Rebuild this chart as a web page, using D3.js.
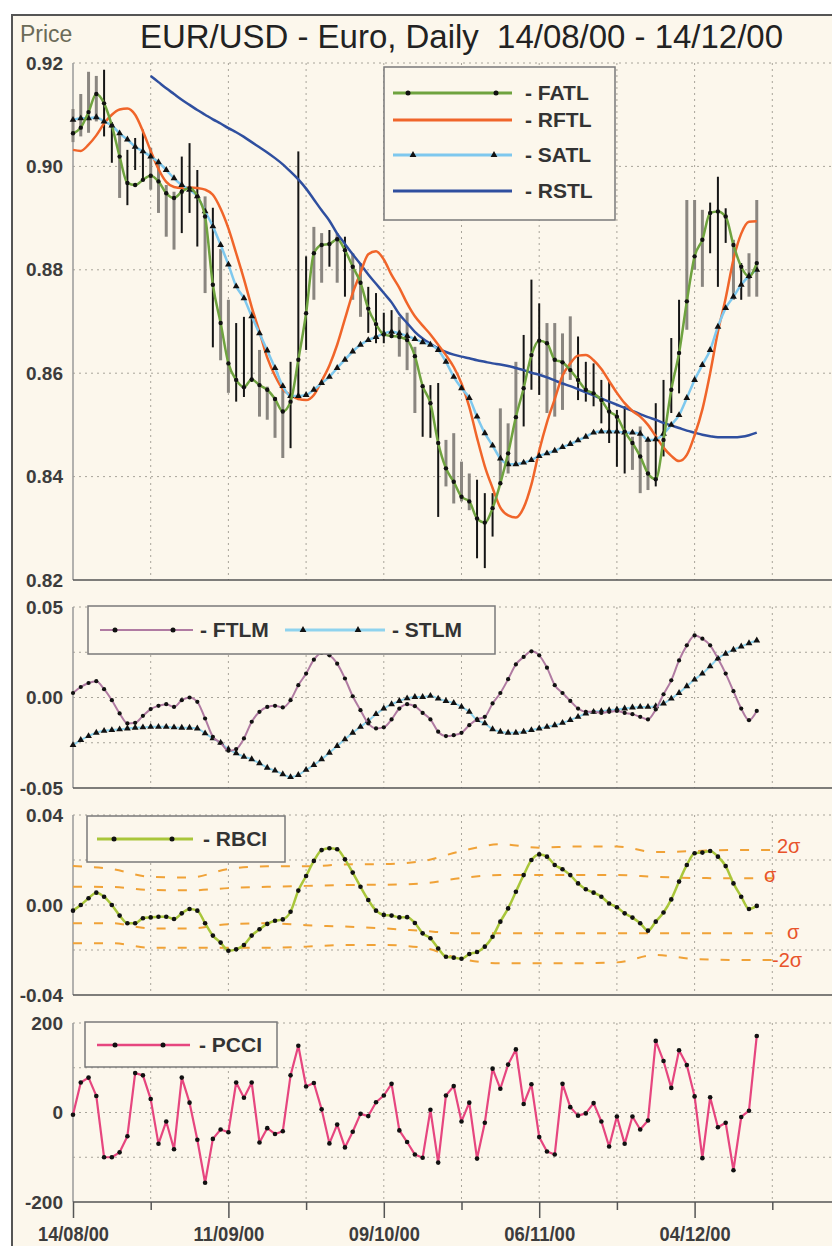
<!DOCTYPE html>
<html>
<head>
<meta charset="utf-8">
<script src="https://cdn.jsdelivr.net/npm/d3@7"></script>
<style>
  body { margin: 0; background: #fff; }
  svg { display: block; }
  text { font-family: Arial, "Liberation Sans", sans-serif; }
</style>
</head>
<body>
<svg id="chart" width="832" height="1246"></svg>
<script>
// ---- data (one value per trading day, 14/08/00 .. 14/12/00) ----
const fatl = [0.9064,0.9075,0.9105,0.9140,0.9122,0.9079,0.9019,0.8968,0.8964,0.8974,
  0.8982,0.8971,0.8948,0.8939,0.8951,0.8958,0.8942,0.8903,0.8771,0.8697,
  0.8619,0.8587,0.8573,0.8588,0.8577,0.8568,0.8550,0.8526,0.8545,0.8626,
  0.8716,0.8832,0.8848,0.8850,0.8859,0.8838,0.8806,0.8775,0.8725,0.8695,
  0.8675,0.8672,0.8670,0.8664,0.8633,0.8575,0.8542,0.8465,0.8416,0.8390,
  0.8361,0.8352,0.8319,0.8311,0.8339,0.8387,0.8445,0.8515,0.8571,0.8635,
  0.8663,0.8658,0.8626,0.8621,0.8606,0.8587,0.8568,0.8561,0.8548,0.8526,
  0.8516,0.8487,0.8465,0.8439,0.8406,0.8395,0.8471,0.8568,0.8639,0.8739,
  0.8826,0.8858,0.8910,0.8913,0.8903,0.8848,0.8806,0.8787,0.8813];

const rftl = [0.9032,0.9030,0.9042,0.9060,0.9083,0.9100,0.9110,0.9112,0.9100,0.9068,
  0.9030,0.8995,0.8970,0.8960,0.8958,0.8959,0.8958,0.8955,0.8945,0.8918,
  0.8880,0.8832,0.8782,0.8728,0.8680,0.8630,0.8595,0.8569,0.8558,0.8550,
  0.8548,0.8558,0.8585,0.8615,0.8655,0.8705,0.8755,0.8794,0.8830,0.8836,
  0.8820,0.8790,0.8765,0.8735,0.8710,0.8692,0.8675,0.8655,0.8635,0.8612,
  0.8580,0.8535,0.8475,0.8420,0.8378,0.8340,0.8325,0.8321,0.8340,0.8385,
  0.8450,0.8505,0.8550,0.8595,0.8619,0.8634,0.8635,0.8625,0.8608,0.8585,
  0.8562,0.8542,0.8527,0.8516,0.8500,0.8478,0.8456,0.8440,0.8430,0.8442,
  0.8480,0.8530,0.8600,0.8680,0.8745,0.8820,0.8870,0.8893,0.8894];

const satl = [0.9090,0.9093,0.9093,0.9095,0.9087,0.9079,0.9064,0.9052,0.9038,0.9029,
  0.9019,0.9008,0.8993,0.8977,0.8964,0.8955,0.8942,0.8913,0.8884,0.8848,
  0.8810,0.8768,0.8745,0.8710,0.8677,0.8644,0.8610,0.8575,0.8556,0.8556,
  0.8558,0.8568,0.8581,0.8593,0.8610,0.8626,0.8642,0.8655,0.8664,0.8670,
  0.8677,0.8680,0.8677,0.8672,0.8666,0.8660,0.8655,0.8645,0.8622,0.8593,
  0.8571,0.8552,0.8516,0.8484,0.8460,0.8435,0.8424,0.8424,0.8427,0.8432,
  0.8440,0.8445,0.8450,0.8457,0.8463,0.8470,0.8477,0.8485,0.8487,0.8487,
  0.8487,0.8485,0.8485,0.8483,0.8471,0.8472,0.8483,0.8500,0.8519,0.8552,
  0.8587,0.8616,0.8645,0.8690,0.8726,0.8748,0.8771,0.8788,0.8800];

// RSTL starts on the 11th trading day
const rstl = [null,null,null,null,null,null,null,null,null,null,
  0.9175,0.9163,0.9151,0.9140,0.9129,0.9119,0.9109,0.9100,0.9091,0.9083,
  0.9074,0.9066,0.9057,0.9047,0.9037,0.9027,0.9016,0.9004,0.8990,0.8975,
  0.8957,0.8936,0.8915,0.8895,0.8870,0.8850,0.8830,0.8811,0.8791,0.8773,
  0.8755,0.8737,0.8714,0.8697,0.8680,0.8667,0.8657,0.8648,0.8641,0.8636,
  0.8632,0.8629,0.8625,0.8622,0.8619,0.8617,0.8614,0.8610,0.8606,0.8601,
  0.8597,0.8592,0.8586,0.8580,0.8575,0.8569,0.8563,0.8557,0.8551,0.8545,
  0.8539,0.8533,0.8527,0.8521,0.8515,0.8510,0.8504,0.8499,0.8494,0.8489,
  0.8485,0.8481,0.8478,0.8476,0.8476,0.8476,0.8477,0.8480,0.8485];

const barHigh = [0.9111,0.9140,0.9183,0.9175,0.9187,0.9086,0.9065,0.9032,0.9055,0.9071,
  0.9036,0.9007,0.8964,0.8951,0.9019,0.9045,0.8993,0.8942,0.8920,0.8840,
  0.8742,0.8697,0.8709,0.8719,0.8645,0.8574,0.8554,0.8568,0.8622,0.9029,
  0.8826,0.8883,0.8871,0.8877,0.8871,0.8864,0.8832,0.8813,0.8767,0.8755,
  0.8717,0.8722,0.8709,0.8717,0.8651,0.8574,0.8577,0.8581,0.8471,0.8484,
  0.8429,0.8406,0.8394,0.8368,0.8368,0.8532,0.8503,0.8622,0.8674,0.8781,
  0.8735,0.8697,0.8697,0.8677,0.8710,0.8671,0.8622,0.8619,0.8587,0.8584,
  0.8529,0.8536,0.8477,0.8497,0.8471,0.8542,0.8587,0.8668,0.8742,0.8935,
  0.8935,0.8916,0.8930,0.8980,0.8919,0.8858,0.8813,0.8832,0.8935];

const barLow = [0.9047,0.9058,0.9065,0.9087,0.9058,0.9007,0.8939,0.8925,0.8993,0.8974,
  0.8955,0.8910,0.8864,0.8839,0.8871,0.8910,0.8845,0.8755,0.8650,0.8625,
  0.8562,0.8545,0.8554,0.8583,0.8516,0.8510,0.8475,0.8436,0.8455,0.8548,
  0.8645,0.8742,0.8775,0.8806,0.8775,0.8748,0.8742,0.8709,0.8678,0.8658,
  0.8658,0.8668,0.8632,0.8606,0.8523,0.8477,0.8475,0.8322,0.8381,0.8348,
  0.8352,0.8335,0.8242,0.8223,0.8284,0.8387,0.8406,0.8429,0.8497,0.8568,
  0.8558,0.8523,0.8516,0.8529,0.8587,0.8548,0.8545,0.8536,0.8503,0.8465,
  0.8419,0.8406,0.8413,0.8368,0.8374,0.8381,0.8439,0.8523,0.8561,0.8684,
  0.8800,0.8767,0.8832,0.8767,0.8852,0.8742,0.8742,0.8748,0.8748];

// b = black bar, g = grey bar
const barTone = ["g","g","g","g","b","b","g","b","b","b",
  "g","g","g","g","b","b","b","g","b","g",
  "g","b","b","b","g","g","g","g","b","b",
  "b","g","g","b","g","b","g","g","b","b",
  "b","b","g","g","g","b","b","b","g","g",
  "g","g","b","b","b","g","g","g","b","b",
  "b","g","g","g","g","b","b","b","b","b",
  "b","b","g","g","g","b","b","b","b","g",
  "g","g","b","b","b","g","b","g","g"];

const ftlm = [0.0025,0.0058,0.0080,0.0090,0.0046,-0.0015,-0.0088,-0.0143,-0.0140,-0.0101,
  -0.0064,-0.0046,-0.0037,-0.0052,-0.0015,0.0000,-0.0024,-0.0116,-0.0217,-0.0250,
  -0.0294,-0.0285,-0.0226,-0.0134,-0.0079,-0.0052,-0.0046,-0.0055,-0.0015,0.0068,
  0.0132,0.0209,0.0246,0.0233,0.0187,0.0105,0.0007,-0.0070,-0.0143,-0.0171,
  -0.0165,-0.0121,-0.0061,-0.0037,-0.0048,-0.0085,-0.0121,-0.0189,-0.0213,-0.0208,
  -0.0195,-0.0153,-0.0121,-0.0107,-0.0033,0.0025,0.0101,0.0183,0.0224,0.0255,
  0.0233,0.0165,0.0068,0.0025,-0.0019,-0.0061,-0.0079,-0.0079,-0.0085,-0.0079,
  -0.0074,-0.0085,-0.0092,-0.0107,-0.0121,-0.0066,0.0018,0.0095,0.0205,0.0288,
  0.0343,0.0325,0.0288,0.0215,0.0132,0.0035,-0.0061,-0.0125,-0.0074];

const stlm = [-0.0263,-0.0235,-0.0213,-0.0195,-0.0184,-0.0180,-0.0176,-0.0171,-0.0167,-0.0165,
  -0.0162,-0.0162,-0.0162,-0.0165,-0.0167,-0.0167,-0.0171,-0.0198,-0.0226,-0.0250,
  -0.0286,-0.0308,-0.0327,-0.0341,-0.0363,-0.0388,-0.0404,-0.0424,-0.0440,-0.0428,
  -0.0400,-0.0373,-0.0341,-0.0305,-0.0268,-0.0231,-0.0195,-0.0162,-0.0129,-0.0092,
  -0.0061,-0.0037,-0.0019,-0.0005,0.0003,0.0003,0.0009,-0.0006,-0.0019,-0.0030,
  -0.0052,-0.0079,-0.0125,-0.0143,-0.0175,-0.0189,-0.0195,-0.0195,-0.0189,-0.0180,
  -0.0171,-0.0162,-0.0153,-0.0140,-0.0125,-0.0107,-0.0088,-0.0079,-0.0075,-0.0070,
  -0.0066,-0.0061,-0.0055,-0.0052,-0.0052,-0.0048,-0.0033,-0.0006,0.0025,0.0062,
  0.0099,0.0132,0.0172,0.0215,0.0242,0.0264,0.0282,0.0300,0.0315];

const rbci = [-0.0025,0.0000,0.0030,0.0055,0.0037,0.0000,-0.0047,-0.0081,-0.0081,-0.0059,
  -0.0055,-0.0052,-0.0052,-0.0062,-0.0037,-0.0018,-0.0025,-0.0081,-0.0136,-0.0167,
  -0.0203,-0.0197,-0.0178,-0.0136,-0.0108,-0.0084,-0.0070,-0.0064,-0.0030,0.0064,
  0.0129,0.0196,0.0244,0.0252,0.0248,0.0203,0.0144,0.0081,0.0022,-0.0025,
  -0.0044,-0.0047,-0.0055,-0.0054,-0.0080,-0.0126,-0.0148,-0.0193,-0.0230,-0.0234,
  -0.0239,-0.0218,-0.0209,-0.0185,-0.0141,-0.0074,-0.0015,0.0059,0.0133,0.0200,
  0.0225,0.0215,0.0178,0.0159,0.0133,0.0096,0.0070,0.0055,0.0037,0.0007,
  -0.0010,-0.0037,-0.0056,-0.0081,-0.0114,-0.0074,-0.0033,0.0025,0.0104,0.0178,
  0.0230,0.0233,0.0240,0.0215,0.0173,0.0096,0.0037,-0.0018,-0.0004];

const pcci = [-5,67,78,37,-100,-100,-89,-53,88,83,
  30,-70,-20,-82,78,22,-61,-157,-59,-38,
  -44,67,33,67,-67,-35,-48,-42,83,149,
  58,66,7,-69,-27,-78,-43,-3,-8,23,
  38,64,-40,-66,-94,-101,6,-112,38,59,
  -20,22,-103,-23,98,53,107,141,19,63,
  -55,-87,-94,64,12,-7,-2,21,-20,-76,
  -9,-70,-9,-38,-18,160,115,55,139,106,
  36,-102,34,-33,-23,-129,-10,4,171];

// RBCI sigma bands, sampled every 5 trading days
const sigmaDays = [0,5,10,15,20,25,30,35,40,45,50,55,60,65,70,75,80,85,90];
const sigmaPlus2 = [0.0173,0.0160,0.0125,0.0122,0.0160,0.0172,0.0172,0.0180,0.0182,0.0195,0.0240,0.0270,0.0255,0.0260,0.0260,0.0235,0.0240,0.0245,0.0245];
const sigmaPlus1 = [0.0081,0.0080,0.0067,0.0065,0.0075,0.0081,0.0085,0.0089,0.0090,0.0096,0.0120,0.0133,0.0133,0.0133,0.0133,0.0125,0.0120,0.0119,0.0119];
const sigmaMinus1 = [-0.0081,-0.0081,-0.0104,-0.0104,-0.0085,-0.0081,-0.0090,-0.0096,-0.0104,-0.0115,-0.0126,-0.0126,-0.0126,-0.0126,-0.0126,-0.0126,-0.0126,-0.0126,-0.0126];
const sigmaMinus2 = [-0.0170,-0.0170,-0.0190,-0.0190,-0.0190,-0.0190,-0.0185,-0.0178,-0.0178,-0.0190,-0.0240,-0.0259,-0.0259,-0.0259,-0.0255,-0.0222,-0.0240,-0.0244,-0.0244];

// axis ticks
const gridDays = [0,10,20,30,40,50,60,70,80,90];
const labelDays = [0,20,40,60,80];
const dateLabels = ["14/08/00","11/09/00","09/10/00","06/11/00","04/12/00"];
const priceTicks = [0.82,0.84,0.86,0.88,0.90,0.92];
const momGrid = [-0.025,0,0.025,0.05], momLabels = [-0.05,0,0.05];
const rbciGrid = [-0.02,0,0.02,0.04], rbciLabels = [-0.04,0,0.04];
const pcciGrid = [-100,0,100,200], pcciLabels = [-200,0,200];

// ---- setup ----
const svg = d3.select("#chart");
const FONT = "Arial, 'Liberation Sans', sans-serif";
const RIGHT = 832;

const x = d3.scaleLinear().domain([0, 100]).range([73, 850]);
const yPrice = d3.scaleLinear().domain([0.82, 0.92]).range([580, 63]);
const yMom = d3.scaleLinear().domain([-0.05, 0.05]).range([788, 607]);
const yRbci = d3.scaleLinear().domain([-0.04, 0.04]).range([995, 815]);
const yPcci = d3.scaleLinear().domain([-200, 200]).range([1202, 1023]);

// cream background with frame
svg.append("rect")
    .attr("x", 12).attr("y", 15)
    .attr("width", 840).attr("height", 1250)
    .attr("fill", "#fcf7ec")
    .attr("stroke", "#555")
    .attr("stroke-width", 2);

// title (two spaces before the dates)
svg.append("text")
    .attr("x", 140).attr("y", 48)
    .attr("font-size", 33)
    .attr("fill", "#222")
    .attr("textLength", 643)
    .attr("lengthAdjust", "spacingAndGlyphs")
    .text("EUR/USD - Euro, Daily \u00a014/08/00 - 14/12/00");

svg.append("text")
    .attr("x", 20).attr("y", 42)
    .attr("font-size", 23)
    .attr("fill", "#6b6b58")
    .text("Price");

// panel frame: grid, axes, y labels
function drawPanel(y, gridVals, labelVals, fmt) {
    const [bottom, top] = y.range();
    const g = svg.append("g");

    g.selectAll("line.hgrid")
        .data(gridVals)
        .enter().append("line")
        .attr("x1", x(0)).attr("x2", RIGHT)
        .attr("y1", d => y(d)).attr("y2", d => y(d))
        .attr("stroke", "#a8a49a")
        .attr("stroke-dasharray", "2,4");

    g.selectAll("line.vgrid")
        .data(gridDays.slice(1))
        .enter().append("line")
        .attr("x1", d => x(d)).attr("x2", d => x(d))
        .attr("y1", top).attr("y2", bottom)
        .attr("stroke", "#a8a49a")
        .attr("stroke-dasharray", "2,4");

    g.append("line")
        .attr("x1", x(0)).attr("x2", x(0))
        .attr("y1", top).attr("y2", bottom)
        .attr("stroke", "#9a9a9a").attr("stroke-width", 1.5);

    g.append("line")
        .attr("x1", x(0)).attr("x2", RIGHT)
        .attr("y1", bottom).attr("y2", bottom)
        .attr("stroke", "#555").attr("stroke-width", 1.5);

    const axis = d3.axisLeft(y)
        .tickValues(labelVals)
        .tickSize(0)
        .tickPadding(10)
        .tickFormat(d => d3.format(fmt)(d).replace("\u2212", "-"));
    const ag = svg.append("g")
        .attr("transform", `translate(${x(0)},0)`)
        .call(axis);
    ag.select(".domain").remove();
    ag.selectAll("text")
        .attr("font-family", FONT)
        .attr("font-size", 19)
        .attr("font-weight", "bold")
        .attr("fill", "#3c3c3c");
}

drawPanel(yPrice, priceTicks.slice(1), priceTicks, ".2f");
drawPanel(yMom, momGrid, momLabels, ".2f");
drawPanel(yRbci, rbciGrid, rbciLabels, ".2f");
drawPanel(yPcci, pcciGrid, pcciLabels, "d");

// x axis under the last panel
const xAxis = d3.axisBottom(x)
    .tickValues(gridDays)
    .tickSize(8)
    .tickPadding(16)
    .tickFormat(d => {
        const k = labelDays.indexOf(d);
        return k >= 0 ? dateLabels[k] : "";
    });
const xg = svg.append("g")
    .attr("transform", "translate(0,1202)")
    .call(xAxis);
xg.select(".domain").remove();
xg.selectAll(".tick line")
    .attr("stroke", "#555")
    .attr("stroke-width", 1.5)
    .attr("y2", d => labelDays.includes(d) ? 16 : 8);
xg.selectAll("text")
    .filter(d => labelDays.includes(d))
    .attr("font-family", FONT)
    .attr("font-size", 21)
    .attr("font-weight", "bold")
    .attr("fill", "#3c3c3c")
    .attr("textLength", 71)
    .attr("lengthAdjust", "spacingAndGlyphs");

// ---- helpers ----
function addLine(data, y, color, width, curve) {
    const line = d3.line()
        .defined(d => d != null)
        .x((d, i) => x(i))
        .y(d => y(d))
        .curve(curve || d3.curveLinear);
    svg.append("path")
        .datum(data)
        .attr("d", line)
        .attr("fill", "none")
        .attr("stroke", color)
        .attr("stroke-width", width)
        .attr("stroke-linejoin", "round");
}

function addDots(data, y, r) {
    svg.append("g").selectAll("circle")
        .data(data)
        .enter().append("circle")
        .attr("cx", (d, i) => x(i))
        .attr("cy", d => y(d))
        .attr("r", r)
        .attr("fill", "#111");
}

const tri = d3.symbol().type(d3.symbolTriangle).size(20);
function addTriangles(data, y) {
    svg.append("g").selectAll("path")
        .data(data)
        .enter().append("path")
        .attr("d", tri)
        .attr("transform", (d, i) => `translate(${x(i)},${y(d)})`)
        .attr("fill", "#111");
}

// ---- price panel ----
const bars = barHigh.map((h, i) => ({ i: i, h: h, l: barLow[i], tone: barTone[i] }));
svg.append("g").selectAll("line")
    .data(bars)
    .enter().append("line")
    .attr("x1", d => x(d.i)).attr("x2", d => x(d.i))
    .attr("y1", d => yPrice(d.h)).attr("y2", d => yPrice(d.l))
    .attr("stroke", d => d.tone === "b" ? "#151515" : "#8a8680")
    .attr("stroke-width", d => d.tone === "b" ? 2 : 3);

addLine(rstl, yPrice, "#2f4f9f", 2.5, d3.curveMonotoneX);
addLine(rftl, yPrice, "#f0652a", 2.5, d3.curveMonotoneX);
addLine(satl, yPrice, "#7ec8ee", 2.5, d3.curveMonotoneX);
addTriangles(satl, yPrice);
addLine(fatl, yPrice, "#6fa33f", 2.5, d3.curveMonotoneX);
addDots(fatl, yPrice, 2.2);

// ---- FTLM / STLM ----
addLine(stlm, yMom, "#8fd3ee", 2, d3.curveMonotoneX);
addTriangles(stlm, yMom);
addLine(ftlm, yMom, "#b07ba2", 2, d3.curveMonotoneX);
addDots(ftlm, yMom, 2.1);

// ---- RBCI with sigma bands ----
const bandLine = d3.line()
    .x(d => x(d[0]))
    .y(d => yRbci(d[1]))
    .curve(d3.curveMonotoneX);
[sigmaPlus2, sigmaPlus1, sigmaMinus1, sigmaMinus2].forEach(band => {
    svg.append("path")
        .datum(sigmaDays.map((d, i) => [d, band[i]]))
        .attr("d", bandLine)
        .attr("fill", "none")
        .attr("stroke", "#f0a237")
        .attr("stroke-width", 2)
        .attr("stroke-dasharray", "9,12");
});
addLine(rbci, yRbci, "#a9c63a", 2.5, d3.curveMonotoneX);
addDots(rbci, yRbci, 2.3);

const sigmaText = [
    { t: "2\u03c3", x: 777, y: 853 },
    { t: "\u03c3", x: 764, y: 882 },
    { t: "\u03c3", x: 787, y: 939 },
    { t: "-2\u03c3", x: 772, y: 967 }
];
svg.selectAll("text.sig")
    .data(sigmaText)
    .enter().append("text")
    .attr("class", "sig")
    .attr("x", d => d.x).attr("y", d => d.y)
    .attr("font-size", 20)
    .attr("fill", "#e8532b")
    .text(d => d.t);

// ---- PCCI ----
addLine(pcci, yPcci, "#e6467f", 2.2);
addDots(pcci, yPcci, 2.3);

// ---- legends ----
function legendBox(x0, y0, w, h) {
    svg.append("rect")
        .attr("x", x0).attr("y", y0)
        .attr("width", w).attr("height", h)
        .attr("fill", "#fcf7ec")
        .attr("stroke", "#7a7a7a")
        .attr("stroke-width", 1.5);
}
function legendItem(x1, x2, y, color, width, marker, mx, label, tx) {
    svg.append("line")
        .attr("x1", x1).attr("x2", x2).attr("y1", y).attr("y2", y)
        .attr("stroke", color).attr("stroke-width", width);
    mx.forEach(m => {
        if (marker === "dot") {
            svg.append("circle").attr("cx", m).attr("cy", y).attr("r", 2.5).attr("fill", "#111");
        } else if (marker === "tri") {
            svg.append("path").attr("d", tri).attr("transform", `translate(${m},${y})`).attr("fill", "#111");
        }
    });
    svg.append("text")
        .attr("x", tx).attr("y", y + 7)
        .attr("font-size", 21)
        .attr("font-weight", "bold")
        .attr("fill", "#333")
        .text(label);
}

legendBox(384, 67, 231, 153);
legendItem(393, 512, 93, "#6fa33f", 3, "dot", [408, 496], "- FATL", 525);
legendItem(393, 512, 120, "#f0652a", 3, null, [], "- RFTL", 525);
legendItem(393, 512, 155, "#7ec8ee", 3, "tri", [413, 494], "- SATL", 525);
legendItem(393, 512, 191, "#2f4f9f", 3, null, [], "- RSTL", 525);

legendBox(88, 606, 407, 48);
legendItem(100, 193, 630, "#b07ba2", 2, "dot", [115, 173], "- FTLM", 200);
legendItem(285, 385, 630, "#8fd3ee", 3, "tri", [303, 358], "- STLM", 392);

legendBox(87, 816, 198, 46);
legendItem(97, 193, 839, "#a9c63a", 3, "dot", [114, 172], "- RBCI", 203);

legendBox(85, 1022, 192, 45);
legendItem(97, 190, 1045, "#e6467f", 2.5, "dot", [115, 163], "- PCCI", 199);
</script>
</body>
</html>
